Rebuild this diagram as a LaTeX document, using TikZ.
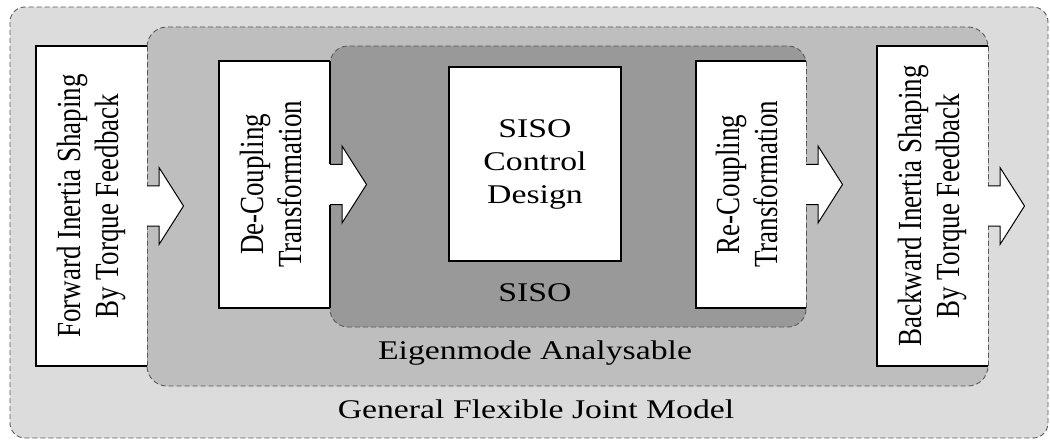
\documentclass[tikz,border=0pt]{standalone}
\usepackage{fontspec}
\setmainfont{Liberation Serif}
\usepackage{graphicx}
\usetikzlibrary{calc}
\definecolor{outerfill}{HTML}{DCDCDC}
\definecolor{midfill}{HTML}{BEBEBE}
\definecolor{innerfill}{HTML}{999999}
\definecolor{dashcol}{HTML}{5A5A5A}
\newcommand\vtext[2]{\rotatebox{90}{\scalebox{1}[1.25]{\fontsize{27}{30.5}\selectfont\begin{tabular}{@{}c@{}}#1\\#2\end{tabular}}}}
\newcommand\htext[1]{\scalebox{1.25}[1]{\fontsize{27}{33}\selectfont\begin{tabular}{@{}c@{}}#1\end{tabular}}}
\newcommand\blockarrow[1]{%
  \filldraw[fill=white, draw=black, line width=1pt, line join=miter]
    ($(#1.east)+(0,-20)$) -- ++(12,0) -- ++(0,-18.5) -- ($(#1.east)+(36.5,0)$)
    -- ($(#1.east)+(12,38.5)$) -- ++(0,-18.5) -- ($(#1.east)+(0,20)$);}
\begin{document}
\begin{tikzpicture}[x=1pt,y=-1pt,
  container/.style={draw=dashcol, dash pattern=on 5pt off 3pt, line width=0.9pt},
  whitebox/.style={fill=white, inner sep=0pt, outer sep=0pt},
  outline/.style={draw=black, line width=1.2pt},
  edgedash/.style={draw=dashcol, dash pattern=on 5pt off 3pt, line width=0.9pt},
  lbl/.style={inner sep=0pt}]
\useasboundingbox (0,0) rectangle (1050,441);
% containers
\path[container, fill=outerfill, rounded corners=15pt] (10,7) rectangle (1048,438);
\path[container, fill=midfill, rounded corners=20pt] (147,27) rectangle (988,386);
\path[container, fill=innerfill, rounded corners=18pt] (330,46) rectangle (806,327);
% labels
\node[lbl] (gen) at (536,412) {\htext{General Flexible Joint Model}};
\node[lbl] (eig) at (535,353) {\htext{Eigenmode Analysable}};
\node[lbl] (sisolbl) at (535,295) {\htext{SISO}};
% boxes
\node[whitebox, minimum width=111pt, minimum height=320pt] (fwd) at (91.5,206)
  {\vtext{Forward Inertia Shaping}{By Torque Feedback}};
\node[whitebox, minimum width=111pt, minimum height=247pt] (dec) at (274.5,184.5)
  {\vtext{De-Coupling}{Transformation}};
\node[whitebox, draw=black, line width=1.2pt, minimum width=172pt, minimum height=194pt] (ctl) at (535,164)
  {\htext{SISO\\Control\\Design}};
\node[whitebox, minimum width=110pt, minimum height=247pt] (rec) at (751,184.5)
  {\vtext{Re-Coupling}{Transformation}};
\node[whitebox, minimum width=111pt, minimum height=320pt] (bwd) at (932.5,206)
  {\vtext{Backward Inertia Shaping}{By Torque Feedback}};
% outlines
\foreach \b in {fwd,dec,rec,bwd}{
  \draw[outline] (\b.north east) -- (\b.north west) -- (\b.south west) -- (\b.south east);
}
\draw[edgedash] (fwd.north east) -- ($(fwd.east)+(0,-20)$) (fwd.south east) -- ($(fwd.east)+(0,20)$);
\draw[outline] (dec.north east) -- ($(dec.east)+(0,-20)$) (dec.south east) -- ($(dec.east)+(0,20)$);
\draw[edgedash] (rec.north east) -- ($(rec.east)+(0,-20)$) (rec.south east) -- ($(rec.east)+(0,20)$);
\draw[edgedash] (bwd.north east) -- ($(bwd.east)+(0,-20)$) (bwd.south east) -- ($(bwd.east)+(0,20)$);
% block arrows
\blockarrow{fwd}
\blockarrow{dec}
\blockarrow{rec}
\blockarrow{bwd}
\end{tikzpicture}
\end{document}
